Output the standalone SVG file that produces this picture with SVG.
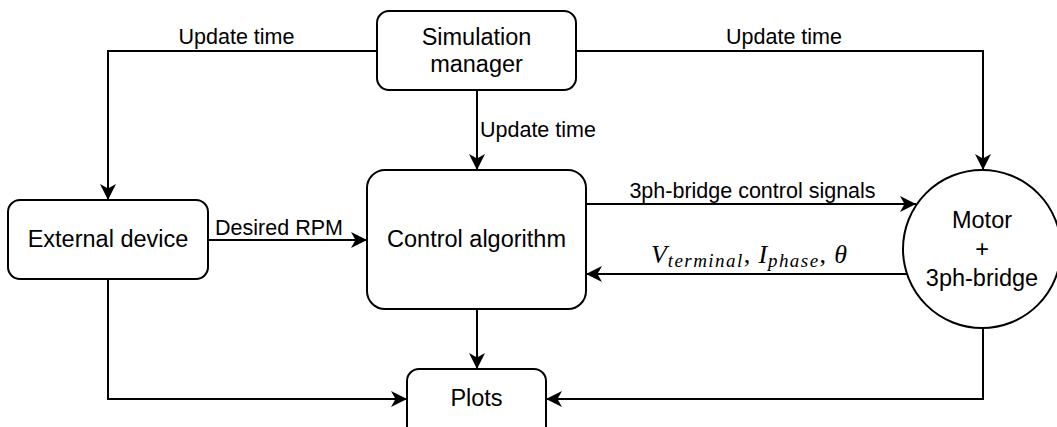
<svg xmlns="http://www.w3.org/2000/svg" width="1057" height="427" viewBox="0 0 1057 427">
  <style>
    .box { fill: #ffffff; stroke: #000000; stroke-width: 2; }
    .wire { fill: none; stroke: #000000; stroke-width: 2; }
    .node { font-family: "Liberation Sans", Arial, sans-serif; font-size: 23.5px; fill: #000000; text-anchor: middle; }
    .lbl { font-family: "Liberation Sans", Arial, sans-serif; font-size: 21.5px; fill: #000000; }
    .math { font-family: "Liberation Serif", "Times New Roman", serif; font-style: italic; font-size: 26px; fill: #000000; }
    .sub { font-size: 19px; letter-spacing: 0.6px; }
    .up { font-style: normal; }
  </style>
  <defs>
    <marker id="arrow" markerUnits="userSpaceOnUse" markerWidth="18" markerHeight="18" refX="16" refY="8" orient="auto" viewBox="0 0 18 16">
      <path d="M0,0 L16,8 L0,16 L4.5,8 Z" fill="#000000"/>
    </marker>
  </defs>

  <!-- connectors -->
  <g id="connectors">
    <!-- simulation manager -> external device -->
    <polyline class="wire" points="377,51 108,51 108,200" marker-end="url(#arrow)"/>
    <text class="lbl" x="236.5" y="44" text-anchor="middle">Update time</text>
    <!-- simulation manager -> motor -->
    <polyline class="wire" points="576,51 983,51 983,170" marker-end="url(#arrow)"/>
    <text class="lbl" x="784" y="44" text-anchor="middle">Update time</text>
    <!-- simulation manager -> control algorithm -->
    <line class="wire" x1="477" y1="90" x2="477" y2="170" marker-end="url(#arrow)"/>
    <text class="lbl" x="480" y="137">Update time</text>
    <!-- external device -> control algorithm -->
    <line class="wire" x1="208" y1="240" x2="367" y2="240" marker-end="url(#arrow)"/>
    <text class="lbl" x="279" y="235" text-anchor="middle">Desired RPM</text>
    <!-- control algorithm -> motor -->
    <line class="wire" x1="586" y1="204" x2="916" y2="204" marker-end="url(#arrow)"/>
    <text class="lbl" x="752.5" y="198" text-anchor="middle">3ph-bridge control signals</text>
    <!-- motor -> control algorithm -->
    <line class="wire" x1="907" y1="274" x2="586" y2="274" marker-end="url(#arrow)"/>
    <text class="math" x="651" y="263" textLength="196" lengthAdjust="spacing">V<tspan class="sub" dy="4">terminal</tspan><tspan class="up" dy="-4">, </tspan>I<tspan class="sub" dy="4">phase</tspan><tspan class="up" dy="-4">, </tspan>θ</text>
    <!-- control algorithm -> plots -->
    <line class="wire" x1="477" y1="309" x2="477" y2="369" marker-end="url(#arrow)"/>
    <!-- external device -> plots -->
    <polyline class="wire" points="108,279 108,399 407,399" marker-end="url(#arrow)"/>
    <!-- motor -> plots -->
    <polyline class="wire" points="983,328 983,399 546,399" marker-end="url(#arrow)"/>
  </g>

  <!-- nodes -->
  <g id="simulation-manager">
    <rect class="box" x="377" y="11" width="199" height="79" rx="12" ry="12"/>
    <text class="node" x="476.5" y="45">Simulation</text>
    <text class="node" x="476.5" y="72">manager</text>
  </g>
  <g id="external-device">
    <rect class="box" x="8" y="200" width="200" height="79" rx="12" ry="12"/>
    <text class="node" x="108" y="247">External device</text>
  </g>
  <g id="control-algorithm">
    <rect class="box" x="367" y="170" width="219" height="139" rx="18" ry="18"/>
    <text class="node" x="476.5" y="247">Control algorithm</text>
  </g>
  <g id="motor">
    <circle class="box" cx="982" cy="249" r="79"/>
    <text class="node" x="982" y="228">Motor</text>
    <text class="node" x="982" y="257">+</text>
    <text class="node" x="982" y="286">3ph-bridge</text>
  </g>
  <g id="plots">
    <rect class="box" x="407" y="369" width="139" height="70" rx="12" ry="12"/>
    <text class="node" x="476.5" y="406">Plots</text>
  </g>
</svg>
